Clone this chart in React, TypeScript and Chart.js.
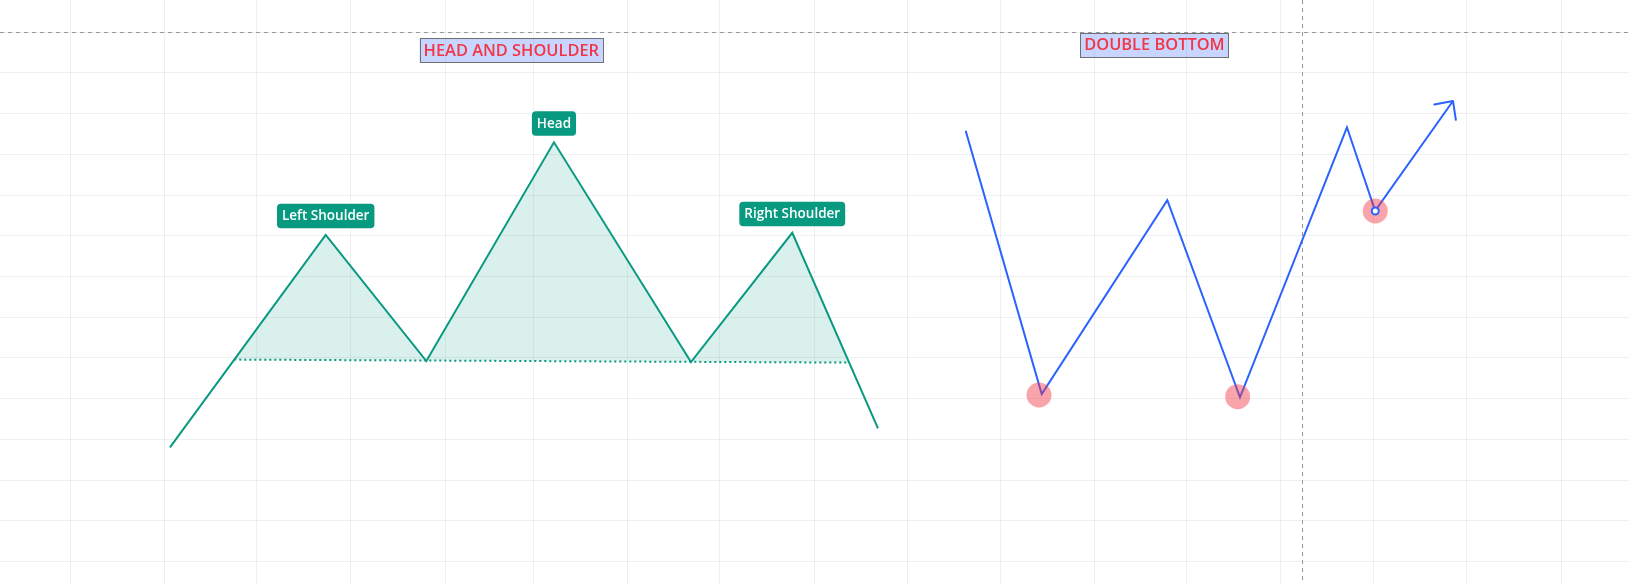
import { useEffect, useRef } from "react";
import { Chart, registerables, Plugin } from "chart.js";

Chart.register(...registerables);

// x = bar index, y = price
const timeGrid = [7.6, 17.67, 27.58, 37.68, 47.88, 57.29, 67.36, 77.27, 87.48, 97.44, 107.46, 117.58, 127.49, 137.54, 147.55, 157.56, 167.72];

// head and shoulders swing points
const hsTime = [18.26, 34.99, 45.8, 59.51, 74.23, 85.11, 94.32];
const hsPrice = [128.06, 180.25, 149.25, 202.96, 149.01, 180.74, 132.73];
const hsNames = ["", "Left Shoulder", "", "Head", "", "Right Shoulder", ""];

const neckTime = [25.17, 91.23];
const neckPrice = [149.6, 148.86];

// double bottom swing points
const dbTime = [103.74, 111.91, 125.4, 133.21, 144.7, 147.73, 156.09];
const dbPrice = [205.81, 141.15, 188.74, 140.34, 206.65, 186.16, 213.1];

const dotTime = [111.62, 132.96, 147.74];
const dotPrice = [140.9, 140.49, 186.09];

const titles = ["HEAD AND SHOULDER", "DOUBLE BOTTOM"];
const titleTime = [54.93, 124.02];
const titlePrice = [225.55, 226.78];

const cursorTime = 139.82;
const cursorPrice = 230.1;

const GREEN = "#089981";
const BLUE = "#2962ff";

const pts = (xs: number[], ys: number[]) => xs.map((x, i) => ({ x, y: ys[i] }));

const overlay: Plugin<"line"> = {
  id: "overlay",
  beforeDatasetsDraw(chart) {
    const { ctx, chartArea } = chart;
    const x = chart.scales.x;
    const y = chart.scales.y;
    const cx = Math.round(x.getPixelForValue(cursorTime)) + 0.5;
    const cy = Math.round(y.getPixelForValue(cursorPrice)) + 0.5;
    ctx.save();
    ctx.strokeStyle = "#9598a1";
    ctx.lineWidth = 1;
    ctx.setLineDash([4, 4]);
    ctx.beginPath();
    ctx.moveTo(chartArea.left, cy);
    ctx.lineTo(chartArea.right, cy);
    ctx.moveTo(cx, chartArea.top);
    ctx.lineTo(cx, chartArea.bottom);
    ctx.stroke();
    ctx.restore();
  },
  afterDatasetsDraw(chart) {
    const { ctx } = chart;
    const x = chart.scales.x;
    const y = chart.scales.y;
    ctx.save();

    // arrow head on the last double bottom leg
    const n = dbTime.length - 1;
    const tx = x.getPixelForValue(dbTime[n]);
    const ty = y.getPixelForValue(dbPrice[n]);
    const px = x.getPixelForValue(dbTime[n - 1]);
    const py = y.getPixelForValue(dbPrice[n - 1]);
    const ang = Math.atan2(py - ty, px - tx);
    ctx.strokeStyle = BLUE;
    ctx.lineWidth = 2;
    ctx.lineCap = "round";
    ctx.beginPath();
    for (const d of [-0.77, 0.77]) {
      ctx.moveTo(tx, ty);
      ctx.lineTo(tx + 19 * Math.cos(ang + d), ty + 19 * Math.sin(ang + d));
    }
    ctx.stroke();

    // pattern labels
    ctx.font = "600 13.5px 'Open Sans'";
    ctx.textAlign = "center";
    ctx.textBaseline = "middle";
    hsNames.forEach((name, i) => {
      if (!name) return;
      const lx = x.getPixelForValue(hsTime[i]);
      const ly = y.getPixelForValue(hsPrice[i]) - 6.5;
      const w = ctx.measureText(name).width + 10;
      const h = 24.5;
      ctx.fillStyle = GREEN;
      ctx.beginPath();
      ctx.roundRect(lx - w / 2, ly - h, w, h, 4);
      ctx.fill();
      ctx.fillStyle = "#ffffff";
      ctx.fillText(name, lx, ly - h / 2 + 0.5);
    });

    // titles
    ctx.font = "600 16.4px 'Open Sans'";
    titles.forEach((t, i) => {
      const lx = x.getPixelForValue(titleTime[i]);
      const ly = y.getPixelForValue(titlePrice[i]);
      const w = ctx.measureText(t).width + 8;
      const h = 24;
      ctx.fillStyle = "rgba(41, 98, 255, 0.26)";
      ctx.fillRect(lx - w / 2, ly - h / 2, w, h);
      ctx.strokeStyle = "#707070";
      ctx.lineWidth = 1;
      ctx.strokeRect(Math.round(lx - w / 2) + 0.5, Math.round(ly - h / 2) + 0.5, Math.round(w), h);
      ctx.fillStyle = "#f23645";
      ctx.fillText(t, lx, ly + 0.5);
    });
    ctx.restore();
  },
};

export default function App() {
  const canvasRef = useRef<HTMLCanvasElement>(null);

  useEffect(() => {
    if (!canvasRef.current) return;

    const fillShape = [
      { x: neckTime[0], y: neckPrice[0] },
      ...pts(hsTime.slice(1, 6), hsPrice.slice(1, 6)),
      { x: neckTime[1], y: neckPrice[1] },
    ];

    const chart = new Chart(canvasRef.current, {
      type: "line",
      data: {
        datasets: [
          {
            data: fillShape,
            borderWidth: 0,
            borderColor: "rgba(0,0,0,0)",
            backgroundColor: "rgba(8, 153, 129, 0.15)",
            fill: "shape",
            pointRadius: 0,
            order: 6,
          },
          {
            data: pts(neckTime, neckPrice),
            borderColor: GREEN,
            borderWidth: 2,
            borderDash: [2, 3],
            pointRadius: 0,
            fill: false,
            order: 5,
          },
          {
            data: pts(hsTime, hsPrice),
            borderColor: GREEN,
            borderWidth: 2,
            pointRadius: 0,
            fill: false,
            order: 4,
          },
          {
            data: pts(dbTime, dbPrice),
            borderColor: BLUE,
            borderWidth: 2,
            pointRadius: 0,
            fill: false,
            order: 3,
          },
          {
            data: pts(dotTime, dotPrice),
            showLine: false,
            pointRadius: 12.5,
            pointBorderWidth: 0,
            pointBackgroundColor: "rgba(242, 54, 69, 0.45)",
            order: 2,
          },
          {
            data: pts(dotTime.slice(2), dotPrice.slice(2)),
            showLine: false,
            pointRadius: 3.5,
            pointBorderWidth: 2,
            pointBorderColor: BLUE,
            pointBackgroundColor: "#ffffff",
            order: 1,
          },
        ],
      },
      options: {
        responsive: false,
        animation: false,
        events: [],
        layout: { padding: 0, autoPadding: false },
        plugins: {
          legend: { display: false },
          tooltip: { enabled: false },
        },
        scales: {
          x: {
            type: "linear",
            min: 0,
            max: 175,
            afterBuildTicks: (scale) => {
              scale.ticks = timeGrid.map((v) => ({ value: v }));
            },
            grid: { color: "rgba(42, 46, 57, 0.07)", drawTicks: false },
            ticks: { display: false },
            border: { display: false },
          },
          y: {
            type: "linear",
            min: 94.49,
            max: 237.91,
            ticks: { display: false, stepSize: 10, includeBounds: false },
            grid: { color: "rgba(42, 46, 57, 0.07)", drawTicks: false },
            border: { display: false },
          },
        },
      },
      plugins: [overlay],
    });

    return () => chart.destroy();
  }, []);

  return (
    <div style={{ position: "fixed", left: 0, top: 0, width: 1629, height: 584, background: "#ffffff" }}>
      <canvas ref={canvasRef} width={1629} height={584} />
    </div>
  );
}
